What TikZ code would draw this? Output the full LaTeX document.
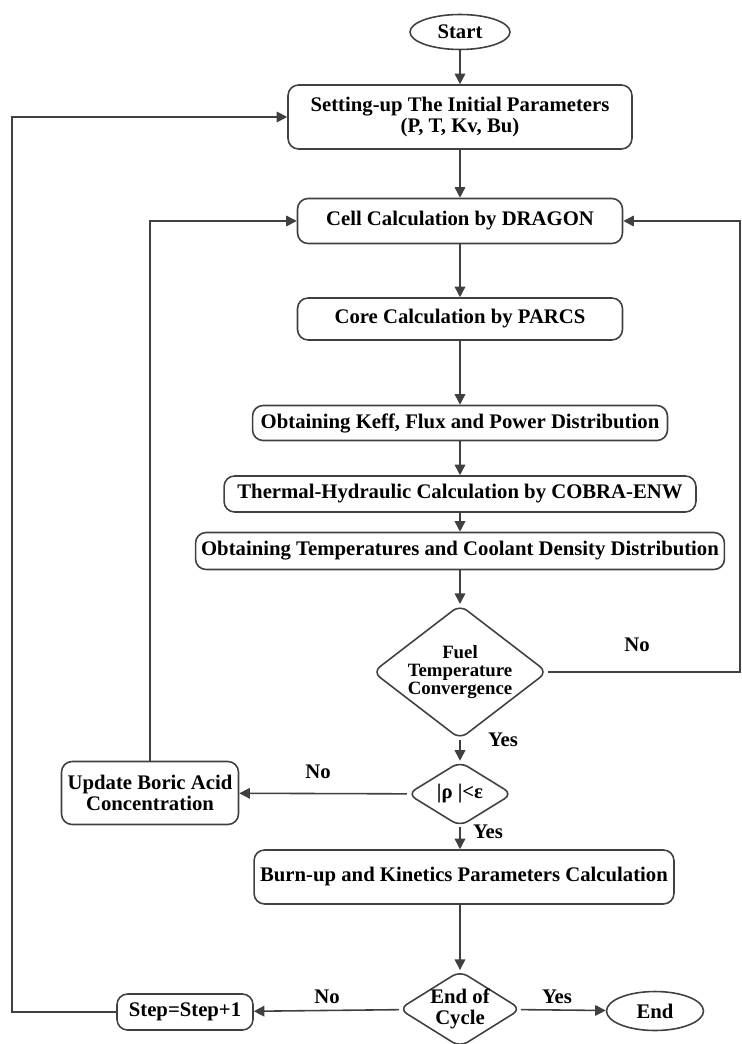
\documentclass[tikz,border=0pt]{standalone}
\usepackage{fontspec}
\setmainfont{Liberation Serif}
\usetikzlibrary{shapes.geometric,arrows.meta}

\begin{document}
\begin{tikzpicture}[x=0.02cm,y=-0.02cm,
  line width=0.9pt, color=black!75, text=black,
  font=\bfseries\fontsize{11.8}{11.5}\selectfont,
  box/.style={draw, rounded corners=6pt, align=center, inner sep=2pt},
  term/.style={draw, ellipse, inner sep=0pt},
  decide/.style={draw, diamond, rounded corners=5pt, align=center, inner sep=0pt},
  arr/.style={-{Triangle[length=6pt,width=6pt]}},
  lbl/.style={inner sep=0pt}]
\useasboundingbox (0,0) rectangle (742,1044);

% main column
\node[term, minimum width=2.0cm, minimum height=0.7cm] (start) at (460,32) {Start};
\node[box, minimum width=6.88cm, minimum height=1.28cm] (setup) at (460,117)
  {Setting-up The Initial Parameters\\[0.5pt](P, T, Kv, Bu)};
\node[box, minimum width=6.5cm, minimum height=0.9cm] (cell) at (460,221) {Cell Calculation by DRAGON};
\node[box, minimum width=6.5cm, minimum height=0.84cm] (core) at (460,319) {Core Calculation by PARCS};
\node[box, minimum width=8.3cm, minimum height=0.7cm] (keff) at (460,423)
  {Obtaining Keff, Flux and Power Distribution};
\node[box, minimum width=9.44cm, minimum height=0.72cm] (thermal) at (460,494)
  {Thermal-Hydraulic Calculation by COBRA-ENW};
\node[box, minimum width=10.58cm, minimum height=0.74cm] (temps) at (460,551)
  {Obtaining Temperatures and Coolant Density Distribution};
\node[decide, aspect=1.3, minimum width=3.34cm, minimum height=2.58cm,
  font=\bfseries\fontsize{10.7}{10.5}\selectfont] (fuel) at (460,672)
  {Fuel\\Temperature\\Convergence};
\node[decide, minimum width=2.1cm, minimum height=1.2cm] (rho) at (460,794) {|ρ |<ε};
\node[box, minimum width=3.54cm, minimum height=1.26cm] (update) at (150,793)
  {Update Boric Acid\\Concentration};
\node[box, minimum width=8.4cm, minimum height=1.08cm] (burn) at (464,877)
  {Burn-up and Kinetics Parameters Calculation};
\node[decide, aspect=1.6, minimum width=2.2cm, minimum height=1.4cm] (endc) at (460,1009)
  {End of\\Cycle};
\node[box, minimum width=2.72cm, minimum height=0.72cm] (step) at (185,1012) {Step=Step+1};
\node[term, minimum width=1.94cm, minimum height=0.78cm] (end) at (655,1011) {End};

% labels
\node[lbl] (no1) at (637,645) {No};
\node[lbl] (yes1) at (503,740) {Yes};
\node[lbl] (no2) at (318,772) {No};
\node[lbl] (yes2) at (488,832) {Yes};
\node[lbl] (no3) at (327,997) {No};
\node[lbl] (yes3) at (557,997) {Yes};

\coordinate (rt) at (740,221);
\coordinate (lt) at (12,117);

% connectors
\draw[arr] (start) -- (setup);
\draw[arr] (setup) -- (cell);
\draw[arr] (cell) -- (core);
\draw[arr] (core) -- (keff);
\draw[arr] (keff) -- (thermal);
\draw[arr] (thermal) -- (temps);
\draw[arr] (temps) -- (fuel);
\draw[arr] (fuel) -- (rho);
\draw[arr] (rho) -- (rho |- burn.north);
\draw[arr] (burn.south -| endc) -- (endc);
\draw[arr] (endc) -- (step);
\draw[arr] (endc) -- (end);
\draw[arr] (rho) -- (update);
\draw[arr] (update.north) |- (cell.west);
\draw[arr] (fuel.east) -| (rt) -- (cell.east);
\draw[arr] (step.west) -| (lt) -- (setup.west);
\end{tikzpicture}
\end{document}
